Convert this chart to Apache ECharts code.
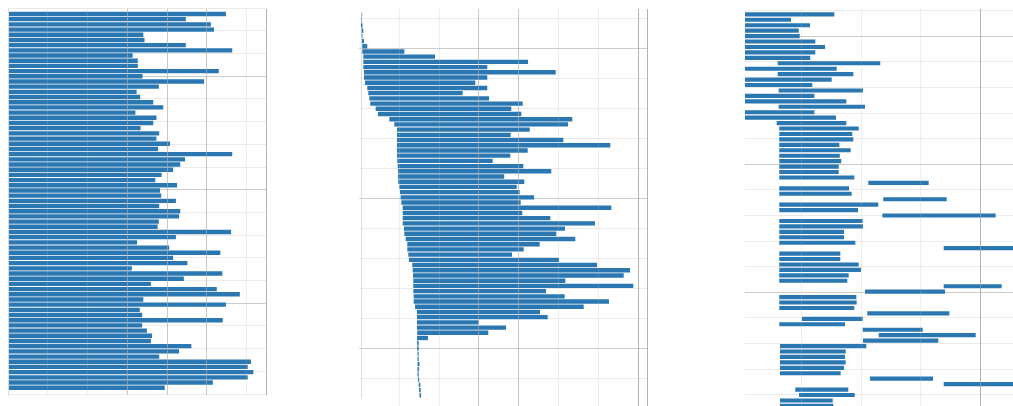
<!DOCTYPE html>
<html>
<head>
<meta charset="utf-8">
<script src="https://cdn.jsdelivr.net/npm/echarts@6/dist/echarts.min.js"></script>
<style>
  html, body { margin: 0; padding: 0; background: #ffffff; }
  #chart { width: 1013px; height: 406px; }
</style>
</head>
<body>
<div id="chart"></div>
<script>
// Panel A: bars anchored at zero, one per row
const panelALength = [
  54.9, 44.8, 51.1, 51.9, 34.1, 34.4, 44.8, 56.5, 31.4, 32.7, 32.7, 53.1, 33.9,
  49.4, 38.0, 32.4, 33.3, 36.6, 39.1, 32.1, 37.4, 36.6, 33.4, 38.1, 37.4,
  40.8, 37.8, 56.5, 44.6, 43.4, 41.6, 38.7, 37.1, 42.6, 38.3, 38.6, 42.3, 38.1,
  43.4, 43.1, 38.0, 37.7, 56.2, 42.3, 32.5, 40.6, 53.5, 41.6, 45.2, 31.2,
  54.0, 44.3, 36.0, 52.6, 58.4, 34.1, 54.9, 33.2, 33.8, 54.1, 33.8, 35.0, 36.3,
  36.0, 46.2, 43.1, 38.1, 61.2, 60.4, 61.8, 60.4, 51.6, 39.5
];

// Panel B: floating bars (start, end)
const panelBStart = [
  0.18, 0.13, 0.0, 0.18, 0.18, 0.25,
  0.33, 0.33, 0.58, 0.58, 0.58,
  0.75, 0.75, 1.01, 1.58, 1.83,
  2.09, 2.34, 3.69, 4.27, 7.11,
  8.37, 9.05, 9.05, 9.05, 9.05,
  9.05, 9.05, 9.12, 9.22, 9.30,
  9.30, 9.37, 9.62, 9.80, 9.97,
  10.13, 10.48, 10.48, 10.48, 10.48,
  10.80, 10.88, 11.23, 11.63, 11.63,
  11.88, 12.06, 12.89, 12.99, 13.07,
  13.14, 13.14, 13.14, 13.24, 13.24,
  13.57, 14.07, 14.07, 14.07, 14.07,
  14.15, 14.07,
  14.1, 14.1, 14.2, 14.2, 14.2, 14.2, 14.2, 14.3, 14.5, 14.6, 14.7
];
const panelBEnd = [
  0.30, 0.25, 0.38, 0.58, 0.38, 0.75,
  1.58, 10.88, 18.59, 41.96, 31.73,
  48.92, 31.73, 28.72, 31.73, 25.55,
  32.16, 40.63, 37.76, 40.28, 53.09,
  52.01, 42.39, 37.61, 50.83, 62.64,
  41.88, 37.51, 33.09, 40.78, 47.81,
  35.98, 41.03, 39.12, 39.87, 43.47,
  40.13, 62.89, 40.53, 47.56, 58.79,
  51.26, 49.07, 53.84, 44.90, 40.88,
  37.94, 49.75, 59.30, 67.59, 66.01,
  51.33, 68.42, 46.48, 51.18, 62.31,
  55.95, 44.97, 46.91, 29.57, 36.43,
  31.98, 16.83,
  14.5, 14.5, 14.5, 14.5, 14.7, 14.6, 14.5, 14.6, 14.9, 15.0, 15.1
];

// Panel C: floating bars (start, end)
const panelCStart = [
  0, 0, 0, 0, 0, 0, 0, 0, 0, 5.5,
  0, 5.5, 0, 0, 5.66, 0, 0, 5.66, 0, 0,
  5.33, 5.76, 5.76, 5.76, 5.76, 5.76, 5.76, 5.76, 5.76, 5.76,
  5.76, 20.72, 5.76, 5.76, 23.24, 5.76, 5.76, 23.08, 5.76, 5.76,
  5.76, 5.76, 5.76, 33.39, 5.76, 5.76, 5.76, 5.76, 5.76, 5.76,
  33.39, 20.17, 5.76, 5.76, 5.76, 20.55, 9.58, 5.76, 19.78, 22.47,
  19.83, 5.88, 5.88, 5.88, 5.88, 5.88, 5.88, 21.0, 33.39, 8.45,
  9.08, 5.88, 5.88
];
const panelCEnd = [
  15.01, 7.73, 10.92, 9.03, 9.19, 11.82, 13.45, 11.82, 10.97, 22.74,
  15.41, 18.2, 14.57, 11.31, 19.83, 11.65, 17.03, 20.17, 11.65, 15.29,
  17.03, 19.11, 18.03, 18.2, 15.86, 17.76, 15.93, 16.18, 15.75, 15.75,
  18.37, 30.87, 17.48, 17.93, 33.9, 22.4, 18.99, 42.13, 19.78, 19.83,
  16.64, 16.64, 18.54, 48.0, 16.02, 16.02, 19.11, 19.5, 17.43, 17.19,
  43.14, 33.61, 18.71, 18.77, 18.37, 34.34, 19.78, 16.81, 29.87, 38.77,
  32.49, 20.39, 16.92, 16.81, 16.92, 16.64, 16.08, 31.6, 48.0, 17.36,
  18.44, 14.74, 14.84
];

const rowsA = panelALength.map((_, i) => 'A' + (i + 1));
const rowsB = panelBStart.map((_, i) => 'B' + (i + 1));
const rowsC = panelCStart.map((_, i) => 'C' + (i + 1));
const spanB = panelBEnd.map((e, i) => +(e - panelBStart[i]).toFixed(3));
const spanC = panelCEnd.map((e, i) => +(e - panelCStart[i]).toFixed(3));

const BAR = '#2a77b2';
const FAINT = 'rgba(185,185,185,0.24)';
const MEDIUM = 'rgba(165,165,165,0.55)';
const DARK = 'rgba(150,150,150,0.75)';
const H_MINOR = 'rgba(190,190,190,0.3)';
const H_MAJOR = 'rgba(160,160,160,0.55)';

const hidden = { show: false };

function makeGrid(left, top, width, height) {
  return { left: left, top: top, width: width, height: height, containLabel: false, outerBoundsMode: 'none' };
}
function barX(grid, max) {
  return { type: 'value', gridIndex: grid, min: 0, max: max, show: false };
}
function catY(grid, data, axisLine) {
  return {
    type: 'category', gridIndex: grid, data: data, inverse: true,
    axisLabel: hidden, axisTick: hidden, splitLine: hidden,
    axisLine: axisLine ? { show: true, lineStyle: { color: '#dcdcdc', width: 1 } } : hidden
  };
}
function vlineX(grid, max) {
  return {
    type: 'value', gridIndex: grid, min: 0, max: max, interval: 10, z: 10,
    axisLabel: hidden, axisTick: hidden, axisLine: hidden,
    splitLine: { show: true, showMinLine: false, lineStyle: { color: FAINT, width: 1 } }
  };
}
function plainY(grid, axisLine) {
  return {
    type: 'value', gridIndex: grid, min: 0, max: 1, z: 10,
    axisLabel: hidden, axisTick: hidden, splitLine: hidden,
    axisLine: axisLine ? { show: true, lineStyle: { color: '#dcdcdc', width: 1 } } : hidden
  };
}
function hlineY(grid, majors) {
  return {
    type: 'value', gridIndex: grid, inverse: true, min: 0, max: majors, interval: 1,
    axisLabel: hidden, axisTick: hidden, axisLine: hidden,
    splitLine: { show: true, lineStyle: { color: H_MAJOR, width: 1 } },
    minorTick: { show: false, splitNumber: 5 },
    minorSplitLine: { show: true, lineStyle: { color: H_MINOR, width: 1 } }
  };
}
function guideSeries(xi, yi, lines) {
  return {
    type: 'line', xAxisIndex: xi, yAxisIndex: yi, data: [], silent: true, z: 10,
    markLine: {
      silent: true, symbol: 'none', animation: false, label: hidden,
      data: lines.map(l => ({ xAxis: l.x, lineStyle: { color: l.c, width: 1, type: 'solid' } }))
    }
  };
}

const chart = echarts.init(document.getElementById('chart'), null, { renderer: 'canvas' });

chart.setOption({
  animation: false,
  backgroundColor: '#ffffff',
  grid: [
    makeGrid(8, 11.4, 258, 378.9),        // A bars
    makeGrid(8, 9, 258, 386),             // A vertical guides
    makeGrid(8, -37.5, 258, 454),         // A horizontal guides
    makeGrid(361, 12.4, 286, 385.5),      // B bars
    makeGrid(359.3, 9, 287.7, 397),       // B vertical guides
    makeGrid(359.3, -102, 287.7, 600),    // B horizontal guides
    makeGrid(745, 11.6, 297.5, 397),      // C bars
    makeGrid(742.3, 9, 297, 400),         // C vertical guides
    makeGrid(745, -92, 300, 512)          // C horizontal guides
  ],
  xAxis: [
    barX(0, 65),
    vlineX(1, 65),
    barX(2, 1),
    barX(3, 71.86),
    vlineX(4, 72.3),
    barX(5, 1),
    barX(6, 50),
    vlineX(7, 50),
    barX(8, 1)
  ],
  yAxis: [
    catY(0, rowsA, false),
    plainY(1, true),
    hlineY(2, 4),
    catY(3, rowsB, true),
    plainY(4, false),
    hlineY(5, 4),
    catY(6, rowsC, false),
    plainY(7, false),
    hlineY(8, 4)
  ],
  series: [
    {
      type: 'bar', xAxisIndex: 0, yAxisIndex: 0, data: panelALength,
      barWidth: '84%', itemStyle: { color: BAR }, z: 2
    },
    {
      type: 'bar', xAxisIndex: 3, yAxisIndex: 3, stack: 'B', data: panelBStart,
      barWidth: '84%', itemStyle: { color: 'rgba(0,0,0,0)' }, silent: true, z: 2
    },
    {
      type: 'bar', xAxisIndex: 3, yAxisIndex: 3, stack: 'B', data: spanB,
      barWidth: '84%', itemStyle: { color: BAR }, z: 2
    },
    {
      type: 'bar', xAxisIndex: 6, yAxisIndex: 6, stack: 'C', data: panelCStart,
      barWidth: '76%', itemStyle: { color: 'rgba(0,0,0,0)' }, silent: true, z: 2
    },
    {
      type: 'bar', xAxisIndex: 6, yAxisIndex: 6, stack: 'C', data: spanC,
      barWidth: '76%', itemStyle: { color: BAR }, z: 2
    },
    // heavier vertical guides and panel borders
    guideSeries(1, 1, [
      { x: 30, c: MEDIUM }, { x: 40, c: MEDIUM }, { x: 50, c: MEDIUM }, { x: 65, c: DARK }
    ]),
    guideSeries(4, 4, [
      { x: 30, c: MEDIUM }, { x: 40, c: MEDIUM }, { x: 70, c: DARK }, { x: 72.3, c: DARK }
    ]),
    guideSeries(7, 7, [
      { x: 40, c: DARK }
    ])
  ]
});
</script>
</body>
</html>
